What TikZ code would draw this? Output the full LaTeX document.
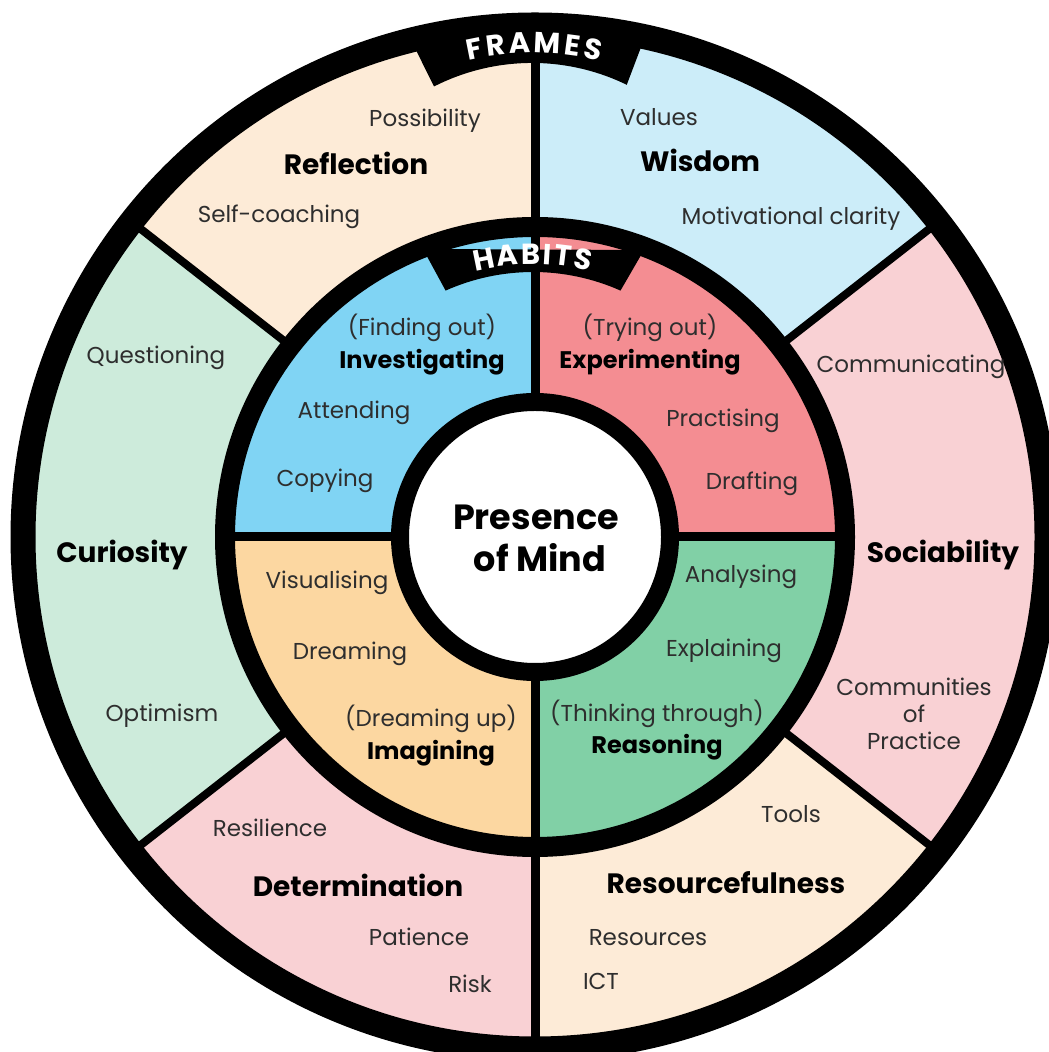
\documentclass[tikz,border=0pt]{standalone}
\usepackage{fontspec}
\setmainfont{Poppins}
\definecolor{cPeach}{HTML}{FDEBD7}
\definecolor{cSky}{HTML}{CCEDF9}
\definecolor{cRose}{HTML}{F9D1D4}
\definecolor{cMint}{HTML}{CDEBDB}
\definecolor{cBlue}{HTML}{80D4F4}
\definecolor{cRed}{HTML}{F48D92}
\definecolor{cOrange}{HTML}{FCD7A1}
\definecolor{cGreen}{HTML}{81D0A6}
\definecolor{txt}{HTML}{2E2E2E}
\newcommand\regfont{\fontsize{23}{27}\selectfont}
\newcommand\hdfont{\fontsize{28}{32}\selectfont\bfseries}
\newcommand\ihdfont{\fontsize{24}{28}\selectfont\bfseries}
\newcommand\pmfont{\fontsize{35}{40}\selectfont\bfseries}
\newcommand\bnfont{\fontsize{29}{32}\selectfont\bfseries}
\begin{document}
\begin{tikzpicture}[x=1pt,y=1pt,
  lbl/.style={font=\regfont, text=txt, anchor=base, inner sep=0pt},
  hd/.style={font=\hdfont, text=black, anchor=base, inner sep=0pt},
  ihd/.style={font=\ihdfont, text=black, anchor=base, inner sep=0pt},
  pm/.style={font=\pmfont, text=black, anchor=base, inner sep=0pt},
  bn/.style={font=\bnfont, text=white, inner sep=0pt},
  divider/.style={line width=8pt, black},
  vdivider/.style={line width=9pt, black}]
\useasboundingbox (0,0) rectangle (1049,1052);
\fill[white] (0,0) rectangle (1049,1052);
\begin{scope}[shift={(535,515)}]
  % outer sectors (frames)
  \fill[cPeach] (0,0) -- (90:512) arc[start angle=90, end angle=142, radius=512] -- cycle;
  \fill[cMint]  (0,0) -- (142:512) arc[start angle=142, end angle=218, radius=512] -- cycle;
  \fill[cRose]  (0,0) -- (218:512) arc[start angle=218, end angle=270, radius=512] -- cycle;
  \fill[cPeach] (0,0) -- (270:512) arc[start angle=270, end angle=322, radius=512] -- cycle;
  \fill[cRose]  (0,0) -- (322:512) arc[start angle=322, end angle=398, radius=512] -- cycle;
  \fill[cSky]   (0,0) -- (38:512) arc[start angle=38, end angle=90, radius=512] -- cycle;
  \foreach \a in {38,142,218,322} \draw[divider] (\a:310) -- (\a:506);
  \foreach \a in {90,270} \draw[vdivider] (\a:310) -- (\a:506);
  \draw[line width=25pt] (0,0) circle[radius=512];
  % inner quadrants (habits)
  \fill[cRed]    (0,0) -- (0:310) arc[start angle=0, end angle=90, radius=310] -- cycle;
  \fill[cBlue]   (0,0) -- (90:310) arc[start angle=90, end angle=180, radius=310] -- cycle;
  \fill[cOrange] (0,0) -- (180:310) arc[start angle=180, end angle=270, radius=310] -- cycle;
  \fill[cGreen]  (0,0) -- (270:310) arc[start angle=270, end angle=360, radius=310] -- cycle;
  \foreach \a in {0,90,180,270} \draw[vdivider] (\a:140) -- (\a:305);
  \draw[line width=20pt] (0,0) circle[radius=310];
  \filldraw[fill=white, line width=18pt] (0,0) circle[radius=135];
  % banners
  \fill[black] (-128,505) -- (-101,450.5) arc[start angle=117, end angle=64, radius=216] -- (111,503) -- cycle;
  \fill[black] (-112,288) -- (-89.4,246.4) arc[start angle=114, end angle=66, radius=215] -- (109,287) -- cycle;
  \begin{scope}[shift={(-2,194)}]
    \foreach \a/\l in {101.3/F, 97.1/R, 92.6/A, 87.2/M, 82.4/E, 78.4/S}
      \node[bn, rotate=\a-90] (f\l) at (\a:300) {\l};
  \end{scope}
  \begin{scope}[shift={(-2,33)}]
    \foreach \a/\l in {101.4/H, 95.9/A, 90.5/B, 86.6/I, 83.0/T, 78.3/S}
      \node[bn, rotate=\a-90] (h\l) at (\a:250) {\l};
  \end{scope}
\end{scope}
% centre
\node[pm] (pres) at (536,522) {Presence};
\node[pm] (mind) at (540,480) {of Mind};
% frames labels
\node[lbl] (possib) at (425,925) {Possibility};
\node[hd]  (refl)   at (356,877) {Reflection};
\node[lbl] (selfc)  at (279,829) {Self-coaching};
\node[lbl] (values) at (659,926) {Values};
\node[hd]  (wisd)   at (700,880) {Wisdom};
\node[lbl] (motiv)  at (791,827) {Motivational clarity};
\node[lbl] (quest)  at (156,688) {Questioning};
\node[hd]  (curio)  at (122,489) {Curiosity};
\node[lbl] (optim)  at (162,330) {Optimism};
\node[lbl] (commu)  at (911,679) {Communicating};
\node[hd]  (socia)  at (943,489) {Sociability};
\node[font=\regfont, text=txt, align=center, inner sep=0pt] (cop) at (914,338) {Communities\\of\\Practice};
\node[lbl] (tools)  at (791,229) {Tools};
\node[hd]  (resou)  at (726,158) {Resourcefulness};
\node[lbl] (resrc)  at (648,106) {Resources};
\node[lbl] (ict)    at (601,62)  {ICT};
\node[lbl] (resil)  at (270,215) {Resilience};
\node[hd]  (deter)  at (358,155) {Determination};
\node[lbl] (patie)  at (419,106) {Patience};
\node[lbl] (risk)   at (470,59)  {Risk};
% habits labels
\node[lbl] (findo)  at (422,716) {(Finding out)};
\node[ihd] (inves)  at (422,683.5) {Investigating};
\node[lbl] (atten)  at (354,633) {Attending};
\node[lbl] (copyi)  at (325,565) {Copying};
\node[lbl] (tryo)   at (650,716) {(Trying out)};
\node[ihd] (exper)  at (650,683.5) {Experimenting};
\node[lbl] (pract)  at (723,625) {Practising};
\node[lbl] (draft)  at (752,562) {Drafting};
\node[lbl] (visua)  at (327,463) {Visualising};
\node[lbl] (dream)  at (350,392) {Dreaming};
\node[lbl] (dreup)  at (431,325) {(Dreaming up)};
\node[ihd] (imagi)  at (431,292.5) {Imagining};
\node[lbl] (analy)  at (741,469) {Analysing};
\node[lbl] (expla)  at (724,395) {Explaining};
\node[lbl] (think)  at (657,330) {(Thinking through)};
\node[ihd] (reaso)  at (657,298.5) {Reasoning};
\end{tikzpicture}
\end{document}
